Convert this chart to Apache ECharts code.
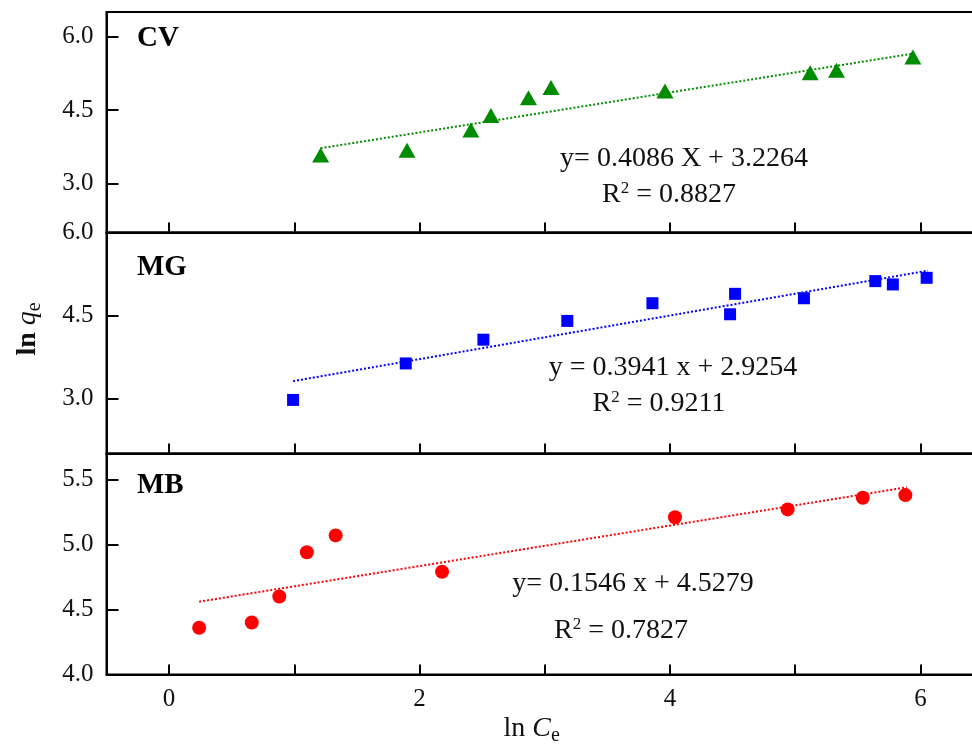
<!DOCTYPE html>
<html>
<head>
<meta charset="utf-8">
<script src="https://cdn.jsdelivr.net/npm/echarts@6/dist/echarts.min.js"></script>
<style>html,body{margin:0;padding:0;background:#fff}#c{width:972px;height:745px}</style>
</head>
<body>
<div id="c"></div>
<script>
// ---- data ----
const xTickValues = [0, 1, 2, 3, 4, 5, 6];
const xTickLabels = [0, 2, 4, 6];

const cvLnCe = [1.21, 1.90, 2.41, 2.57, 2.87, 3.05, 3.96, 5.12, 5.33, 5.94];
const cvLnQe = [3.58, 3.68, 4.09, 4.39, 4.75, 4.96, 4.89, 5.26, 5.31, 5.58];
const cvFitX = [1.21, 5.94];
const cvFitY = [3.72, 5.65];
const cvTicks = [3.0, 4.5, 6.0];

const mgLnCe = [0.99, 1.89, 2.51, 3.18, 3.86, 4.48, 4.52, 5.07, 5.64, 5.78, 6.05];
const mgLnQe = [2.97, 3.63, 4.06, 4.40, 4.72, 4.52, 4.89, 4.81, 5.12, 5.06, 5.18];
const mgFitX = [0.99, 6.06];
const mgFitY = [3.31, 5.31];
const mgTicks = [3.0, 4.5, 6.0];

const mbLnCe = [0.24, 0.66, 0.88, 1.10, 1.33, 2.18, 4.04, 4.94, 5.54, 5.88];
const mbLnQe = [4.36, 4.40, 4.60, 4.94, 5.07, 4.79, 5.21, 5.27, 5.36, 5.38];
const mbFitX = [0.24, 5.89];
const mbFitY = [4.56, 5.44];
const mbTicks = [4.0, 4.5, 5.0, 5.5];

const panelNames = ['CV', 'MG', 'MB'];
const eqTexts = ['y= 0.4086 X + 3.2264', 'y = 0.3941 x + 2.9254', 'y= 0.1546 x + 4.5279'];
const r2Texts = ['0.8827', '0.9211', '0.7827'];

// ---- chart ----
const FONT = 'Liberation Serif';
const zip = (a, b) => a.map((v, i) => [v, b[i]]);
const chart = echarts.init(document.getElementById('c'), null, {renderer: 'canvas'});

const gridBase = {left: 106.5, width: 876.5, outerBoundsMode: 'none', containLabel: false,
  show: true, borderColor: '#000', borderWidth: 2, backgroundColor: 'transparent'};
const grids = [
  Object.assign({top: 12, height: 220.5}, gridBase),
  Object.assign({top: 232.5, height: 221}, gridBase),
  Object.assign({top: 453.5, height: 221}, gridBase)
];

function xAx(i, showLabels) {
  return {
    type: 'value', gridIndex: i, min: -0.5, max: 6.5,
    axisLine: {show: true, onZero: false, lineStyle: {color: '#000', width: 2}},
    axisTick: {show: true, inside: true, length: 10, customValues: xTickValues, lineStyle: {color: '#000', width: 2}},
    axisLabel: {show: showLabels, customValues: xTickLabels, margin: 12, fontFamily: FONT, fontSize: 25, color: '#111'},
    splitLine: {show: false},
    name: showLabels ? '{a|ln }{i|C}{s|e}' : '',
    nameLocation: 'middle', nameGap: 37,
    nameTextStyle: {padding: [0, 26, 0, 0], rich: {
      a: {fontFamily: FONT, fontSize: 28, color: '#111'},
      i: {fontFamily: FONT, fontSize: 28, fontStyle: 'italic', color: '#111'},
      s: {fontFamily: FONT, fontSize: 20, color: '#111', padding: [14, 0, 0, 0]}
    }}
  };
}
function yAx(i, min, max, ticks, named) {
  return {
    type: 'value', gridIndex: i, min: min, max: max,
    axisLine: {show: true, onZero: false, lineStyle: {color: '#000', width: 2}},
    axisTick: {show: true, inside: true, length: 12, customValues: ticks, lineStyle: {color: '#000', width: 2}},
    axisLabel: {customValues: ticks, margin: 13, fontFamily: FONT, fontSize: 25, color: '#111',
      formatter: v => v.toFixed(1)},
    splitLine: {show: false},
    name: named ? '{a|ln }{i|q}{s|e}' : '',
    nameLocation: 'middle', nameGap: 62, nameRotate: 90,
    nameTextStyle: {padding: [0, 0, 0, 28], rich: {
      a: {fontFamily: FONT, fontSize: 28, color: '#111', fontWeight: 'bold'},
      i: {fontFamily: FONT, fontSize: 28, fontStyle: 'italic', color: '#111'},
      s: {fontFamily: FONT, fontSize: 20, color: '#111', padding: [14, 0, 0, 0]}
    }}
  };
}

function scatter(i, xs, ys, symbol, size, color) {
  return {type: 'scatter', xAxisIndex: i, yAxisIndex: i, data: zip(xs, ys), symbol: symbol, symbolSize: size,
    itemStyle: {color: color, opacity: 1}, z: 3};
}
function fit(i, xs, ys, color) {
  return {type: 'line', xAxisIndex: i, yAxisIndex: i, data: zip(xs, ys), symbol: 'none',
    lineStyle: {color: color, width: 2, type: [2, 2]}, z: 2};
}

const green = '#008c00', blue = '#0000ff', red = '#ff0000';
const eqPos = [[684, 159], [673, 368], [633, 584]];
const r2Pos = [[669, 195], [659, 404], [621, 631]];
const labelPos = [38, 267, 485];

const graphics = [];
panelNames.forEach((n, i) => {
  graphics.push({type: 'text', left: 137, top: labelPos[i] - 14, style: {text: n, fontFamily: FONT, fontSize: 29, fontWeight: 'bold', fill: '#000'}});
  graphics.push({type: 'text', x: eqPos[i][0], y: eqPos[i][1], style: {text: eqTexts[i], fontFamily: FONT, fontSize: 28, fill: '#111', align: 'center', verticalAlign: 'middle'}});
  graphics.push({type: 'text', x: r2Pos[i][0], y: r2Pos[i][1], style: {text: '{r|R}{p|2}{r| = ' + r2Texts[i] + '}', align: 'center', verticalAlign: 'middle',
    rich: {r: {fontFamily: FONT, fontSize: 28, fill: '#111', lineHeight: 30}, p: {fontFamily: FONT, fontSize: 17, fill: '#111', padding: [0, 0, 12, 0], lineHeight: 30}}}});
});

chart.setOption({
  animation: false,
  backgroundColor: '#fff',
  grid: grids,
  xAxis: [xAx(0, false), xAx(1, false), xAx(2, true)],
  yAxis: [yAx(0, 2.0, 6.5, cvTicks, false), yAx(1, 2.0, 6.0, mgTicks, true), yAx(2, 4.0, 5.7, mbTicks, false)],
  series: [
    fit(0, cvFitX, cvFitY, green),
    scatter(0, cvLnCe, cvLnQe, 'triangle', [17, 15], green),
    fit(1, mgFitX, mgFitY, blue),
    scatter(1, mgLnCe, mgLnQe, 'rect', [12, 12], blue),
    fit(2, mbFitX, mbFitY, red),
    scatter(2, mbLnCe, mbLnQe, 'circle', 14, red)
  ],
  graphic: graphics
});
</script>
</body>
</html>
